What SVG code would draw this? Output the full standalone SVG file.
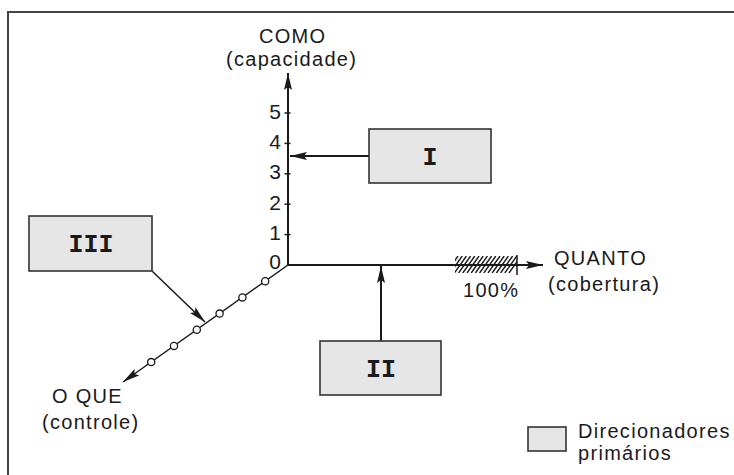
<svg xmlns="http://www.w3.org/2000/svg" width="734" height="475" viewBox="0 0 734 475">
<defs>
<style>
.frame{fill:none;stroke:#444;stroke-width:2}
.box{fill:#e6e6e6;stroke:#333;stroke-width:1.6}
.ax{fill:none;stroke:#1a1a1a;stroke-width:2}
.thin{fill:none;stroke:#1a1a1a;stroke-width:1.5}
.lbl{font-family:"Liberation Sans",Arial,sans-serif;font-size:20px;letter-spacing:1.3px;fill:#1a1a1a}
.num{font-family:"Liberation Sans",Arial,sans-serif;font-size:21px;fill:#1a1a1a;text-anchor:end}
.rom{font-family:"Liberation Mono","Courier New",monospace;font-weight:bold;font-size:25px;fill:#1a1a1a;text-anchor:middle}
.dot{fill:#fff;stroke:#1a1a1a;stroke-width:1.3}
.hatch{stroke:#1a1a1a;stroke-width:1.4}
</style>
<marker id="ah" viewBox="0 0 17 8" refX="17" refY="4" markerWidth="17" markerHeight="8" orient="auto" markerUnits="userSpaceOnUse">
<path d="M0,0 L17,4 L0,8 L3,4 z" fill="#1a1a1a"/>
</marker>
<clipPath id="hc"><rect x="455" y="256" width="62" height="17"/></clipPath>
</defs>
<rect width="734" height="475" fill="#fff"/>
<path class="frame" d="M8,475 V12 H734"/>

<g id="axes">
<line class="ax" x1="288" y1="266" x2="288" y2="73" marker-end="url(#ah)"/>
<line class="ax" x1="287" y1="265" x2="543" y2="265" marker-end="url(#ah)"/>
<line class="thin" x1="288" y1="265" x2="123" y2="382" marker-end="url(#ah)"/>
<g class="thin">
<line x1="284.5" y1="113" x2="290.5" y2="113"/>
<line x1="284.5" y1="143.4" x2="290.5" y2="143.4"/>
<line x1="284.5" y1="173.8" x2="290.5" y2="173.8"/>
<line x1="284.5" y1="204.2" x2="290.5" y2="204.2"/>
<line x1="284.5" y1="234.6" x2="290.5" y2="234.6"/>
</g>
<g class="num">
<text x="281" y="118.5">5</text>
<text x="281" y="148.9">4</text>
<text x="281" y="179.3">3</text>
<text x="281" y="209.7">2</text>
<text x="281" y="240.1">1</text>
<text x="281" y="268.5">0</text>
</g>
<g>
<circle class="dot" cx="265.2" cy="281.2" r="3.6"/>
<circle class="dot" cx="242.4" cy="297.4" r="3.6"/>
<circle class="dot" cx="219.6" cy="313.6" r="3.6"/>
<circle class="dot" cx="196.8" cy="329.7" r="3.6"/>
<circle class="dot" cx="174" cy="345.9" r="3.6"/>
<circle class="dot" cx="151.2" cy="362.1" r="3.6"/>
</g>
<g clip-path="url(#hc)" class="hatch">
<line x1="446" y1="273" x2="458" y2="256"/>
<line x1="450.2" y1="273" x2="462.2" y2="256"/>
<line x1="454.4" y1="273" x2="466.4" y2="256"/>
<line x1="458.6" y1="273" x2="470.6" y2="256"/>
<line x1="462.8" y1="273" x2="474.8" y2="256"/>
<line x1="467" y1="273" x2="479" y2="256"/>
<line x1="471.2" y1="273" x2="483.2" y2="256"/>
<line x1="475.4" y1="273" x2="487.4" y2="256"/>
<line x1="479.6" y1="273" x2="491.6" y2="256"/>
<line x1="483.8" y1="273" x2="495.8" y2="256"/>
<line x1="488" y1="273" x2="500" y2="256"/>
<line x1="492.2" y1="273" x2="504.2" y2="256"/>
<line x1="496.4" y1="273" x2="508.4" y2="256"/>
<line x1="500.6" y1="273" x2="512.6" y2="256"/>
<line x1="504.8" y1="273" x2="516.8" y2="256"/>
<line x1="509" y1="273" x2="521" y2="256"/>
</g>
<line class="thin" x1="517" y1="255" x2="517" y2="275"/>
<text class="lbl" x="259" y="43">COMO</text>
<text class="lbl" x="226" y="66">(capacidade)</text>
<text class="lbl" x="554" y="265">QUANTO</text>
<text class="lbl" x="548" y="291">(cobertura)</text>
<text class="lbl" x="463" y="297">100%</text>
<text class="lbl" x="52" y="403">O QUE</text>
<text class="lbl" x="42" y="429">(controle)</text>
</g>

<g id="connectors">
<line class="ax" x1="369" y1="156" x2="290" y2="156" marker-end="url(#ah)"/>
<line class="ax" x1="381" y1="341" x2="381" y2="266" marker-end="url(#ah)"/>
<line class="thin" x1="152" y1="271" x2="205" y2="322" marker-end="url(#ah)"/>
</g>

<g id="node-I">
<rect class="box" x="369" y="129" width="122" height="54"/>
<text class="rom" x="430" y="165">I</text>
</g>
<g id="node-II">
<rect class="box" x="320" y="341" width="121" height="54"/>
<text class="rom" x="381" y="376.5">II</text>
</g>
<g id="node-III">
<rect class="box" x="29" y="216" width="123" height="55"/>
<text class="rom" x="91" y="252">III</text>
</g>

<g id="legend">
<rect class="box" x="528" y="427" width="38" height="24"/>
<text class="lbl" x="578" y="438">Direcionadores</text>
<text class="lbl" x="578" y="460">primários</text>
</g>
</svg>
